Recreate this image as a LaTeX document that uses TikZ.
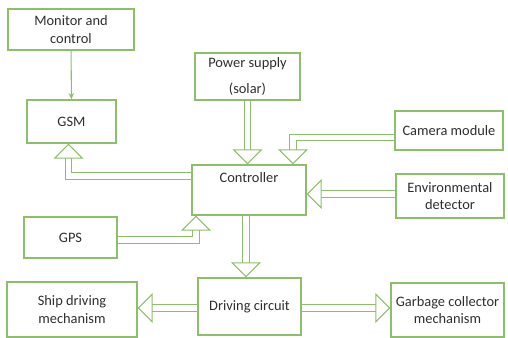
\documentclass[tikz,border=0pt]{standalone}
\usepackage{fontspec}
\setmainfont{Carlito}
\usetikzlibrary{arrows.meta}
\definecolor{boxgreen}{HTML}{8DBE6C}
\definecolor{txt}{HTML}{2E2E2E}
\tikzset{
  box/.style={draw=boxgreen, line width=0.8pt, text=txt, align=center, inner sep=1pt,
    font=\fontsize{8.2}{10}\selectfont},
  feed/.style={draw=boxgreen, line width=0.6pt, double=white, double distance=3.2pt,
    -{Triangle[open, width=17pt, length=8.5pt, line width=0.6pt]}},
  link/.style={draw=boxgreen, line width=0.6pt, -{Stealth[length=3.5pt, width=3pt]}},
}
\begin{document}
\begin{tikzpicture}[x=0.02cm, y=-0.02cm]
\useasboundingbox (0,0) rectangle (508,338);
% blocks
\node[box, minimum width=126*0.02cm, minimum height=41*0.02cm] (mon) at (71,29.5) {Monitor and\\control};
\node[box, minimum width=89*0.02cm, minimum height=43*0.02cm] (gsm) at (71.5,121.5) {GSM};
\node[box, minimum width=105*0.02cm, minimum height=47*0.02cm] (pow) at (247.5,76.5) {Power supply\\[5pt](solar)};
\node[box, minimum width=108*0.02cm, minimum height=39*0.02cm] (cam) at (449,130.5) {Camera module};
\node[box, minimum width=114*0.02cm, minimum height=50*0.02cm,
  label={[box, draw=none, anchor=north, yshift=-3pt]north:Controller}] (ctrl) at (249,190) {};
\node[box, minimum width=108*0.02cm, minimum height=44*0.02cm] (env) at (450,196) {Environmental\\detector};
\node[box, minimum width=93*0.02cm, minimum height=41*0.02cm] (gps) at (70.5,237.5) {GPS};
\node[box, minimum width=130*0.02cm, minimum height=55*0.02cm] (ship) at (72,309.5) {Ship driving\\mechanism};
\node[box, minimum width=103*0.02cm, minimum height=57*0.02cm] (drv) at (249.5,306.5) {Driving circuit};
\node[box, minimum width=113*0.02cm, minimum height=54*0.02cm] (garb) at (447.5,310) {Garbage collector\\mechanism};
% connectors
\draw[link] (mon) -- (gsm);
\draw[feed] (pow.south) -- (pow.south |- ctrl.north);
\draw[feed] ([yshift=-7*0.02cm]cam.west) -| ([xshift=44*0.02cm]ctrl.north);
\draw[feed] ([yshift=14*0.02cm]ctrl.west) -| ([xshift=-3*0.02cm]gsm.south);
\draw[feed] ([yshift=-2.5*0.02cm]gps.east) -| ([xshift=-53*0.02cm]ctrl.south);
\draw[feed] ([yshift=2*0.02cm]env.west) -- ([yshift=2*0.02cm]env.west -| ctrl.east);
\draw[feed] ([xshift=-3*0.02cm]ctrl.south) -- ([xshift=-3*0.02cm]ctrl.south |- drv.north);
\draw[feed] ([yshift=-1.5*0.02cm]drv.west) -- ([yshift=-1.5*0.02cm]drv.west -| ship.east);
\draw[feed] ([yshift=-1.5*0.02cm]drv.east) -- ([yshift=-1.5*0.02cm]drv.east -| garb.west);
\end{tikzpicture}
\end{document}
